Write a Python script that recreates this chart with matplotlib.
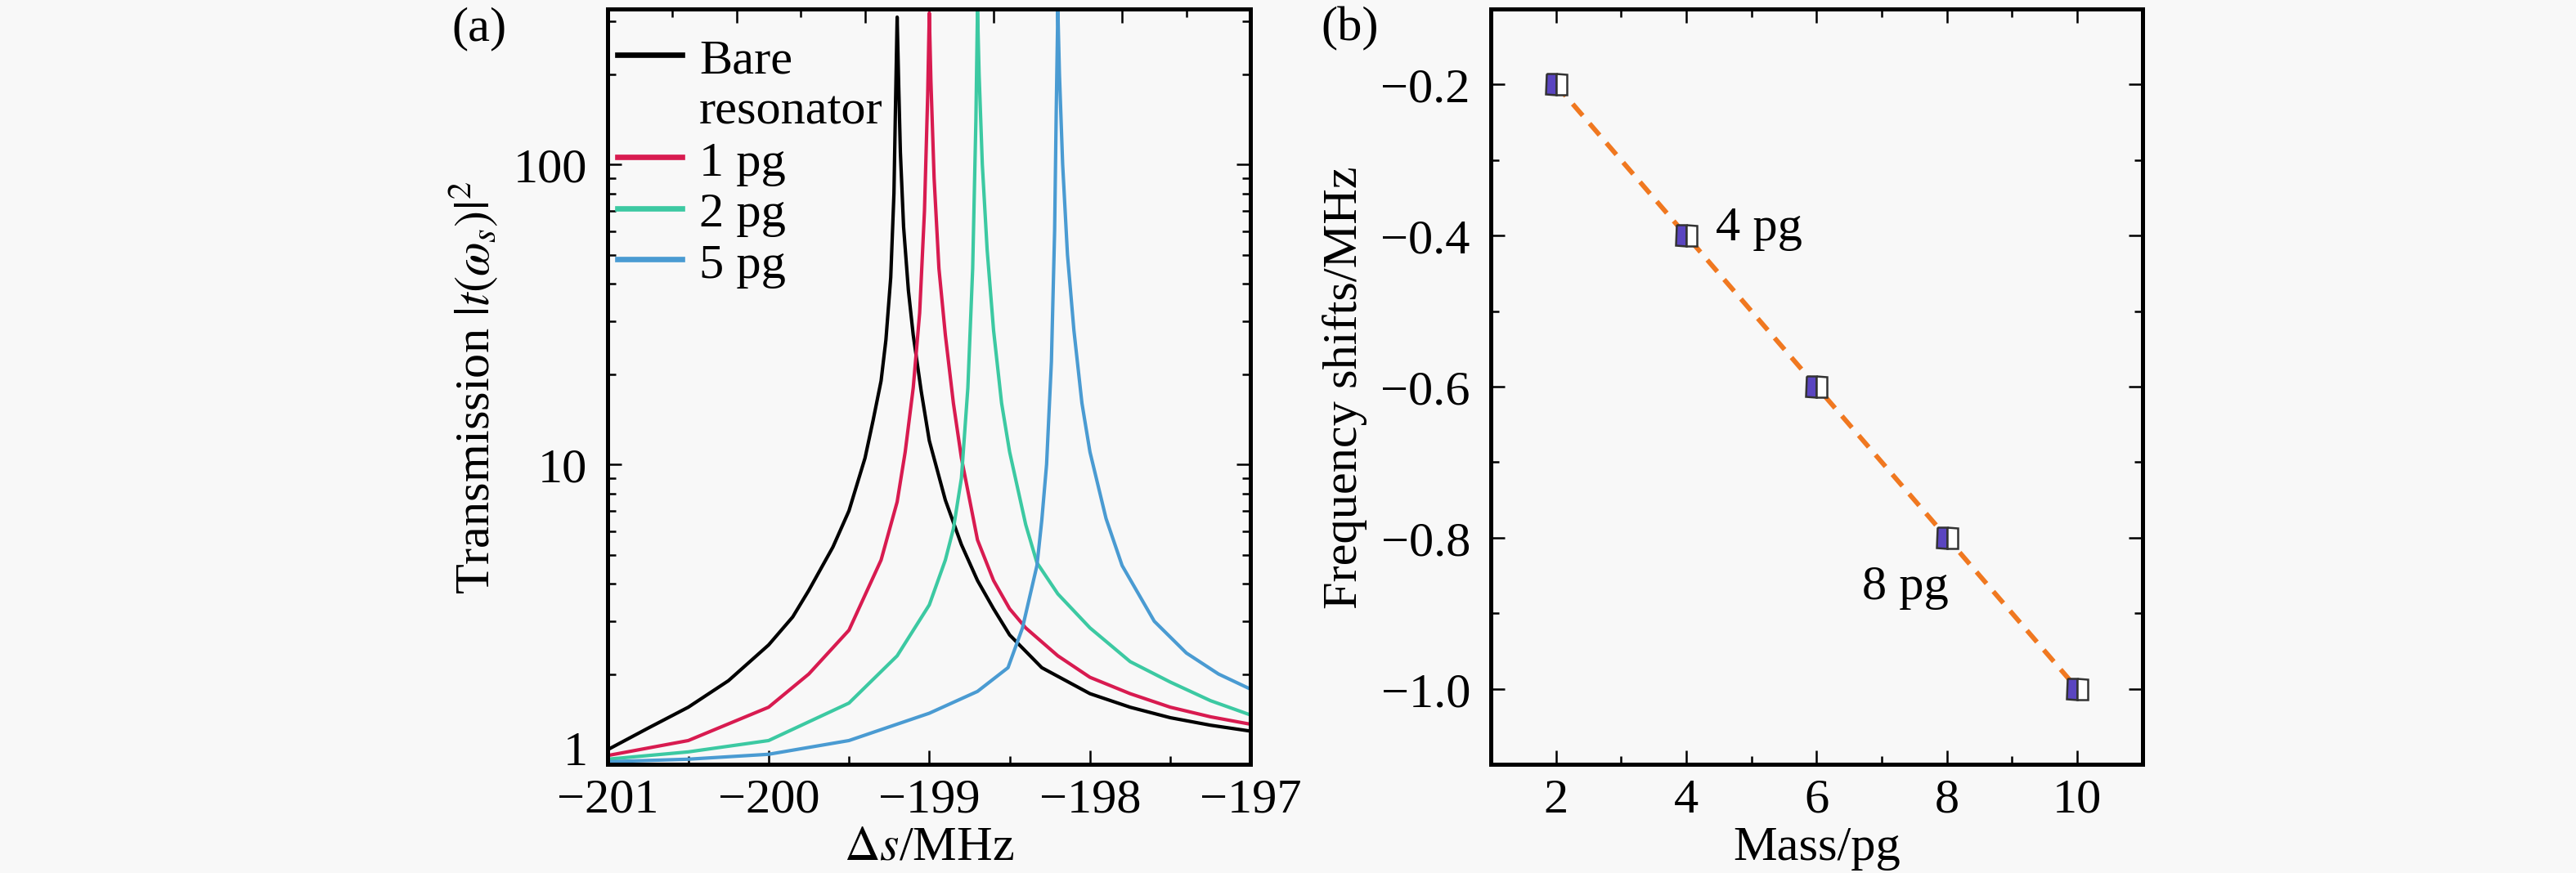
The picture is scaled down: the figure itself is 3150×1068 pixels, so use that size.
import matplotlib
matplotlib.use("Agg")
import matplotlib.pyplot as plt
import matplotlib.transforms as mtransforms
import numpy as np

plt.rcParams['font.family'] = ['Liberation Serif', 'DejaVu Serif']
plt.rcParams['mathtext.fontset'] = 'stix'

# ---- panel (a): transmission spectra ----
bare_x = [-201.0, -200.75, -200.5, -200.25, -200.0, -199.85, -199.75, -199.6, -199.5,
          -199.4, -199.35, -199.3, -199.27, -199.24, -199.22, -199.21, -199.2, -199.19,
          -199.18, -199.16, -199.13, -199.1, -199.05, -199.0, -198.9, -198.8, -198.7,
          -198.6, -198.5, -198.3, -198.0, -197.75, -197.5, -197.25, -197.0]
bare_y = [1.12, 1.32, 1.55, 1.9, 2.5, 3.1, 3.8, 5.3, 7.0,
          10.5, 14, 19, 26, 42, 80, 160, 310, 180,
          110, 62, 38, 27, 17.5, 12, 7.6, 5.4, 4.1,
          3.3, 2.7, 2.1, 1.72, 1.55, 1.43, 1.35, 1.29]

pg1_x = [-201.0, -200.5, -200.0, -199.75, -199.5, -199.3, -199.2, -199.15, -199.1,
         -199.06, -199.03, -199.01, -199.0, -198.99, -198.97, -198.94, -198.9, -198.85,
         -198.8, -198.7, -198.6, -198.5, -198.4, -198.2, -198.0, -197.75, -197.5,
         -197.25, -197.0]
pg1_y = [1.07, 1.2, 1.55, 2.0, 2.8, 4.8, 7.5, 11, 18,
         32, 70, 170, 320, 190, 90, 45, 27, 16,
         10.5, 5.6, 4.1, 3.3, 2.85, 2.3, 1.95, 1.72, 1.55,
         1.44, 1.36]

pg2_x = [-201.0, -200.5, -200.0, -199.5, -199.2, -199.0, -198.9, -198.85, -198.8,
         -198.76, -198.73, -198.71, -198.7, -198.69, -198.67, -198.64, -198.6, -198.55,
         -198.5, -198.4, -198.33, -198.2, -198.0, -197.75, -197.5, -197.25, -197.0]
pg2_y = [1.04, 1.1, 1.2, 1.6, 2.3, 3.4, 4.8, 6.1, 9.0,
         18, 45, 140, 330, 200, 100, 52, 28, 16,
         11, 6.3, 4.7, 3.7, 2.85, 2.2, 1.88, 1.63, 1.46]

pg5_x = [-201.0, -200.5, -200.0, -199.5, -199.0, -198.7, -198.51, -198.42, -198.33,
         -198.3, -198.27, -198.24, -198.22, -198.21, -198.2, -198.19, -198.17, -198.14,
         -198.1, -198.05, -198.0, -197.9, -197.8, -197.6, -197.4, -197.2, -197.0]
pg5_y = [1.02, 1.04, 1.08, 1.2, 1.48, 1.75, 2.1, 2.85, 4.6,
         6.5, 10, 22, 60, 150, 330, 200, 100, 50,
         28, 16, 11, 6.6, 4.6, 3.0, 2.35, 2.0, 1.78]

# ---- panel (b): frequency shift vs mass ----
mass = [2, 4, 6, 8, 10]
shift = [-0.2, -0.4, -0.6, -0.8, -1.0]

bg = '#f8f8f8'
fig = plt.figure(figsize=(10.5, 3.5633), dpi=300, facecolor=bg)
ax1 = fig.add_axes([0.236, 0.1244, 0.2495, 0.8644], facecolor=bg)
ax2 = fig.add_axes([0.5787, 0.1244, 0.2530, 0.8644], facecolor=bg)

fs = 14.5
lw_line = 1.0

ax1.plot(bare_x, bare_y, color='black', lw=lw_line, label='Bare')
ax1.plot([], [], color='none', label='resonator')
ax1.plot(pg1_x, pg1_y, color='#d81b50', lw=lw_line, label='1 pg')
ax1.plot(pg2_x, pg2_y, color='#3cc9a2', lw=lw_line, label='2 pg')
ax1.plot(pg5_x, pg5_y, color='#4a9bd2', lw=lw_line, label='5 pg')
ax1.set_yscale('log')
ax1.set_xlim(-201, -197)
ax1.set_ylim(1, 330)
ax1.set_xticks([-201, -200, -199, -198, -197])
ax1.set_xticklabels(['\u2212201', '\u2212200', '\u2212199', '\u2212198', '\u2212197'])
ax1.set_xticks(np.arange(-200.5, -197, 1.0), minor=True)
ax1.set_yticks([1, 10, 100])
ax1.set_yticklabels(['1', '10', '100'])
ax1.set_xlabel(r'$\Delta s$/MHz', fontsize=fs, labelpad=1)
ax1.set_ylabel(r'Transmission $|t(\omega_s)|^2$', fontsize=fs, labelpad=4)
leg = ax1.legend(loc='upper left', bbox_to_anchor=(0.0, 0.975), frameon=False,
                 fontsize=fs, handlelength=1.3, handletextpad=0.35,
                 labelspacing=0.12, borderaxespad=0.0, borderpad=0.2)
for h in leg.get_lines():
    h.set_linewidth(1.6)

# top axis carries its own tick set in the original
top = ax1.secondary_xaxis('top')
top.set_xticks([-200.2, -199.4, -198.6, -197.8])
top.set_xticks([-200.6, -199.8, -199.0, -198.2, -197.4], minor=True)
top.tick_params(which='both', direction='in', labeltop=False, width=0.6)
top.tick_params(which='major', length=4)
top.tick_params(which='minor', length=2.5)
top.spines['top'].set_linewidth(1.2)

ax2.plot(mass, shift, ls=(0, (3.2, 2.2)), color='#f07820', lw=1.4, zorder=2)
ax2.plot(mass, shift, ls='none', marker='s', ms=6, fillstyle='left',
         markerfacecolor='#5a45c0', markerfacecoloralt='white',
         markeredgecolor='#333333', markeredgewidth=0.6, zorder=3)
ax2.set_xlim(1, 11)
ax2.set_ylim(-1.1, -0.1)
ax2.set_xticks([2, 4, 6, 8, 10])
ax2.set_xticks([3, 5, 7, 9], minor=True)
ax2.set_yticks([-0.2, -0.4, -0.6, -0.8, -1.0])
ax2.set_yticklabels(['\u22120.2', '\u22120.4', '\u22120.6', '\u22120.8', '\u22121.0'])
ax2.set_yticks([-0.3, -0.5, -0.7, -0.9], minor=True)
ax2.set_xlabel('Mass/pg', fontsize=fs, labelpad=1)
ax2.set_ylabel('Frequency shifts/MHz', fontsize=fs, labelpad=4)
ax2.text(4.45, -0.39, '4 pg', fontsize=fs, ha='left', va='center')
ax2.text(6.7, -0.865, '8 pg', fontsize=fs, ha='left', va='center')

for ax in (ax1, ax2):
    for s in ax.spines.values():
        s.set_linewidth(1.2)
    ax.tick_params(which='both', direction='in', labelsize=fs, width=0.6)
    ax.tick_params(which='major', length=4)
    ax.tick_params(which='minor', length=2.5)
    ax.tick_params(axis='x', which='both', pad=4)
    ax.tick_params(axis='y', which='both', pad=6)
ax1.tick_params(which='both', right=True)
ax2.tick_params(which='both', top=True, right=True)

# lift the "1" label a little so it clears the -201 label
lab1 = ax1.get_yticklabels()[0]
lift = mtransforms.ScaledTranslation(0, 5 / 72, fig.dpi_scale_trans)
lab1.set_transform(lab1.get_transform() + lift)

fig.text(0.186, 0.967, '(a)', fontsize=fs, ha='center', va='center')
fig.text(0.524, 0.967, '(b)', fontsize=fs, ha='center', va='center')

fig.savefig('out.png', dpi=300, facecolor=bg)
